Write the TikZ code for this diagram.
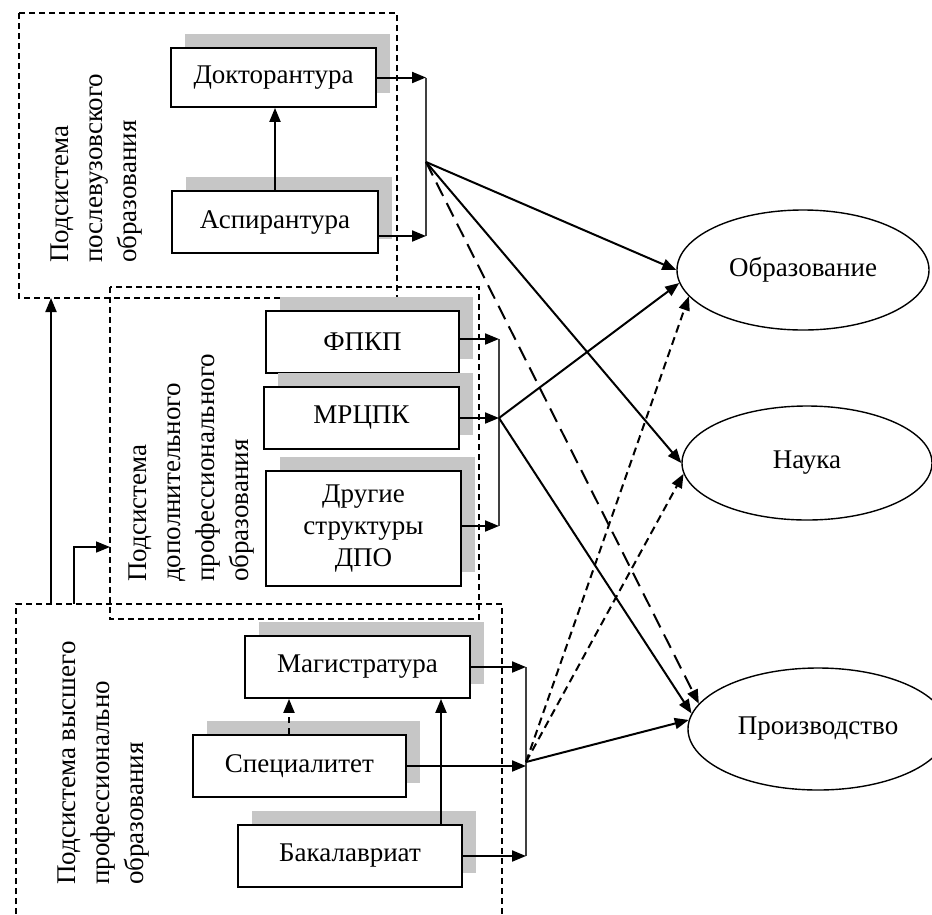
\documentclass[tikz,border=0pt]{standalone}
\usepackage{fontspec}
\setmainfont{Liberation Serif}
\usetikzlibrary{arrows.meta,shapes.geometric,shadows}
\begin{document}
\begin{tikzpicture}[x=1pt,y=-1pt,
  txt/.style={font=\fontsize{27}{34}\selectfont},
  stepbox/.style={txt, draw, line width=1.8pt, fill=white, inner sep=0pt, align=center,
    drop shadow={shadow xshift=14pt, shadow yshift=14pt, fill=gray!45, opacity=1}},
  goal/.style={txt, ellipse, draw, line width=1.4pt, inner sep=0pt},
  frame/.style={line width=1.5pt, dash pattern=on 6pt off 4pt},
  arr/.style={line width=2pt, -{Triangle[length=14pt,width=11pt]}},
  vline/.style={line width=1.8pt, black!75},
  longdash/.style={dash pattern=on 15pt off 8pt},
  shortdash/.style={dash pattern=on 8pt off 5pt},
  sublabel/.style={txt, rotate=90, align=left, anchor=west, inner sep=0pt}
]
\useasboundingbox (0,0) rectangle (932,914);

% subsystem frames
\draw[frame] (19,13) rectangle (397,298);
\draw[frame] (110,287) rectangle (479,619);
\draw[frame] (16,914) -- (16,604) -- (502,604) -- (502,914);

% subsystem labels
\node[sublabel] (l1) at (96.5,263) {Подсистема\\послевузовского\\образования};
\node[sublabel] (l2) at (192,582) {Подсистема\\дополнительного\\профессионального\\образования};
\node[sublabel] (l3) at (104,885) {Подсистема высшего\\профессионально\\образования};

% boxes
\node[stepbox, minimum width=205pt, minimum height=59pt] (dok) at (273.5,77.5) {Докторантура};
\node[stepbox, minimum width=206pt, minimum height=62pt] (asp) at (275,222) {Аспирантура};
\node[stepbox, minimum width=193pt, minimum height=62pt] (fpkp) at (362.5,342) {ФПКП};
\node[stepbox, minimum width=195pt, minimum height=62pt] (mrcpk) at (361.5,418) {МРЦПК};
\node[stepbox, minimum width=195pt, minimum height=115pt, font=\fontsize{27}{32}\selectfont] (dr) at (363.5,528.5) {Другие\\структуры\\ДПО};
\node[stepbox, minimum width=225pt, minimum height=62pt] (mag) at (357.5,667) {Магистратура};
\node[stepbox, minimum width=213pt, minimum height=62pt] (spec) at (299.5,766) {Специалитет};
\node[stepbox, minimum width=224pt, minimum height=62pt] (bak) at (350,856) {Бакалавриат};

% goals
\node[goal, minimum width=252pt, minimum height=120pt] (obr) at (803,270) {Образование};
\node[goal, minimum width=250pt, minimum height=114pt] (nauka) at (807,463) {Наука};
\node[goal, minimum width=260pt, minimum height=122pt] (proizv) at (818,729) {Производство};

% junctions
\coordinate (jA) at (426,162);
\coordinate (jB) at (499,418);
\coordinate (jC) at (526,762);

% inner arrows
\draw[arr] (asp.north) -- (asp.north |- dok.south);
\draw[arr, dash pattern=on 6pt off 5pt] ([xshift=-10.5pt]spec.north) -- ([xshift=-10.5pt]spec.north |- mag.south);
\draw[arr] ([xshift=91pt]bak.north) -- ([xshift=91pt]bak.north |- mag.south);

% post-graduate collector
\draw[vline] (dok.east -| jA) -- ([yshift=-14pt]asp.east -| jA);
\draw[arr] (dok.east) -- (dok.east -| jA);
\draw[arr] ([yshift=-14pt]asp.east) -- ([yshift=-14pt]asp.east -| jA);

% additional collector
\draw[vline] ([yshift=3pt]fpkp.east -| jB) -- ([yshift=2.5pt]dr.east -| jB);
\draw[arr] ([yshift=3pt]fpkp.east) -- ([yshift=3pt]fpkp.east -| jB);
\draw[arr] (mrcpk.east) -- (mrcpk.east -| jB);
\draw[arr] ([yshift=2.5pt]dr.east) -- ([yshift=2.5pt]dr.east -| jB);

% higher collector
\draw[vline] (mag.east -| jC) -- (bak.east -| jC);
\draw[arr] (mag.east) -- (mag.east -| jC);
\draw[arr] (spec.east) -- (spec.east -| jC);
\draw[arr] (bak.east) -- (bak.east -| jC);

% to goals
\draw[arr] (jA) -- (obr.180);
\draw[arr] (jA) -- (nauka.180);
\draw[arr, longdash] (jA) -- (proizv.168);
\draw[arr] (jB) -- (obr.186);
\draw[arr] (jB) -- (proizv.173);
\draw[arr, shortdash] (jC) -- (obr.193);
\draw[arr, shortdash] (jC) -- (nauka.185);
\draw[arr] (jC) -- (proizv.176);

% between subsystems
\coordinate (f3a) at (51,604);
\coordinate (f1b) at (51,298);
\coordinate (f3b) at (74,604);
\coordinate (f2l) at (110,547);
\draw[arr] (f3a) -- (f1b);
\draw[arr, line width=1.6pt] (f3b) |- (f2l);
\end{tikzpicture}
\end{document}
